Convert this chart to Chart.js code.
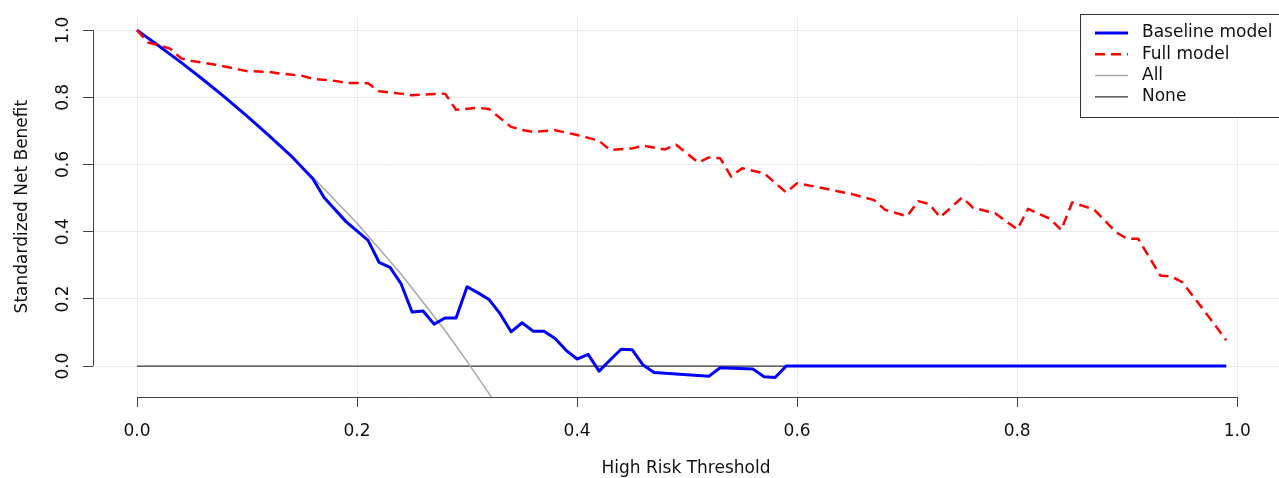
<!DOCTYPE html>
<html lang="en">
<head>
    <meta charset="UTF-8">
    <title>Decision Curve</title>
    <script src="https://cdn.jsdelivr.net/npm/chart.js"></script>
    <style>
        body { margin: 0; padding: 0; background: #fff; }
        .wrap { width: 1279px; height: 478px; position: relative; }
    </style>
</head>
<body>
    <div class="wrap"><canvas id="dca"></canvas></div>

    <script>
        // values
        const xTicks = [0, 0.2, 0.4, 0.6, 0.8, 1.0];
        const yTicks = [0, 0.2, 0.4, 0.6, 0.8, 1.0];

        const baseX = [0, 0.02, 0.04, 0.06, 0.08, 0.10, 0.12, 0.14, 0.16, 0.17, 0.19, 0.21, 0.22, 0.23, 0.24, 0.25, 0.26, 0.27, 0.28, 0.29,
                       0.30, 0.31, 0.32, 0.33, 0.34, 0.35, 0.36, 0.37, 0.38, 0.39, 0.40, 0.41, 0.42, 0.43, 0.44, 0.45, 0.46, 0.47,
                       0.52, 0.53, 0.56, 0.57, 0.58, 0.59, 0.99];
        const baseY = [1.000, 0.953, 0.904, 0.853, 0.800, 0.744, 0.686, 0.626, 0.557, 0.502, 0.430, 0.374, 0.309, 0.294, 0.245, 0.161, 0.164, 0.125, 0.143, 0.143,
                       0.236, 0.218, 0.198, 0.156, 0.102, 0.129, 0.104, 0.104, 0.082, 0.047, 0.021, 0.035, -0.015, 0.018, 0.050, 0.049, 0.003, -0.019,
                       -0.030, -0.005, -0.009, -0.032, -0.034, 0.000, 0.000];

        const fullX = [0, 0.01, 0.02, 0.03, 0.04, 0.05, 0.07, 0.09, 0.10, 0.12, 0.13, 0.15, 0.16, 0.18, 0.19, 0.21, 0.22, 0.24, 0.25, 0.27, 0.28, 0.29,
                       0.31, 0.32, 0.34, 0.35, 0.36, 0.38, 0.40, 0.42, 0.43, 0.45, 0.46, 0.48, 0.49, 0.51, 0.52, 0.53, 0.54, 0.55, 0.57, 0.59,
                       0.60, 0.62, 0.65, 0.67, 0.68, 0.70, 0.71, 0.72, 0.73, 0.75, 0.76, 0.78, 0.80, 0.81, 0.83, 0.84, 0.85, 0.87, 0.89,
                       0.90, 0.91, 0.93, 0.94, 0.95, 0.97, 0.99];
        const fullY = [1.000, 0.963, 0.955, 0.945, 0.916, 0.908, 0.898, 0.885, 0.878, 0.876, 0.871, 0.864, 0.855, 0.849, 0.843, 0.842, 0.818, 0.811, 0.806, 0.810, 0.811, 0.763,
                       0.769, 0.765, 0.712, 0.703, 0.697, 0.702, 0.688, 0.671, 0.643, 0.648, 0.656, 0.645, 0.659, 0.606, 0.621, 0.619, 0.564, 0.589, 0.574, 0.517,
                       0.544, 0.532, 0.512, 0.494, 0.465, 0.446, 0.491, 0.483, 0.443, 0.502, 0.471, 0.455, 0.407, 0.468, 0.438, 0.405, 0.487, 0.466, 0.398,
                       0.379, 0.379, 0.270, 0.267, 0.250, 0.165, 0.077];

        const allX = [0, 0.04, 0.08, 0.12, 0.16, 0.20, 0.24, 0.28, 0.30, 0.32, 0.33];
        const allY = [1.000, 0.904, 0.800, 0.686, 0.562, 0.425, 0.274, 0.106, 0.014, -0.082, -0.135];

        const noneX = [0, 0.99];
        const noneY = [0, 0];

        const pts = (xs, ys) => xs.map((x, i) => ({ x: x, y: ys[i] }));

        Chart.defaults.font.family = "'DejaVu Sans', sans-serif";
        Chart.defaults.font.size = 17;
        Chart.defaults.color = '#111';

        // R-style axis lines, only from first to last tick
        const axisLines = {
            id: 'axisLines',
            afterDatasetsDraw(chart) {
                const { ctx, chartArea, scales: { x, y } } = chart;
                ctx.save();
                ctx.strokeStyle = '#444';
                ctx.lineWidth = 1;
                ctx.beginPath();
                ctx.moveTo(x.getPixelForValue(xTicks[0]), chartArea.bottom + 0.5);
                ctx.lineTo(x.getPixelForValue(xTicks[xTicks.length - 1]), chartArea.bottom + 0.5);
                ctx.moveTo(chartArea.left + 0.5, y.getPixelForValue(yTicks[0]));
                ctx.lineTo(chartArea.left + 0.5, y.getPixelForValue(yTicks[yTicks.length - 1]));
                ctx.stroke();
                ctx.restore();
            }
        };

        // boxed legend in the top right corner
        const boxLegend = {
            id: 'boxLegend',
            afterDraw(chart) {
                const ctx = chart.ctx;
                const left = 1080, top = 14;
                ctx.save();
                ctx.fillStyle = '#fff';
                ctx.strokeStyle = '#333';
                ctx.lineWidth = 1;
                ctx.fillRect(left, top, 220, 103);
                ctx.strokeRect(left + 0.5, top + 0.5, 220, 103);
                ctx.font = "17px 'DejaVu Sans', sans-serif";
                ctx.textBaseline = 'middle';
                chart.data.datasets.forEach((ds, i) => {
                    const yy = 33 + i * 21.3;
                    ctx.strokeStyle = ds.borderColor;
                    ctx.lineWidth = ds.borderWidth;
                    ctx.setLineDash(ds.borderDash || []);
                    ctx.beginPath();
                    ctx.moveTo(1095, yy);
                    ctx.lineTo(1128, yy);
                    ctx.stroke();
                    ctx.setLineDash([]);
                    ctx.fillStyle = '#111';
                    ctx.fillText(ds.label, 1142, yy);
                });
                ctx.restore();
            }
        };

        new Chart(document.getElementById('dca'), {
            type: 'line',
            data: {
                datasets: [
                    { label: 'Baseline model', data: pts(baseX, baseY), borderColor: '#0000ff', borderWidth: 3, order: 1 },
                    { label: 'Full model', data: pts(fullX, fullY), borderColor: '#ff0000', borderWidth: 2.5, borderDash: [10, 6], order: 0 },
                    { label: 'All', data: pts(allX, allY), borderColor: '#a8a8a8', borderWidth: 1.5, order: 2 },
                    { label: 'None', data: pts(noneX, noneY), borderColor: '#333', borderWidth: 1.3, order: 3 }
                ]
            },
            options: {
                responsive: true,
                maintainAspectRatio: false,
                animation: false,
                elements: { point: { radius: 0 }, line: { tension: 0, borderJoinStyle: 'round' } },
                layout: { padding: { top: 11, right: 0, bottom: 0, left: 0 } },
                plugins: { legend: { display: false }, tooltip: { enabled: false } },
                scales: {
                    x: {
                        type: 'linear',
                        min: -0.04, max: 1.038,
                        afterBuildTicks: s => { s.ticks = xTicks.map(v => ({ value: v })); },
                        afterFit: s => { s.height = 81; },
                        border: { display: false },
                        grid: { color: '#ebebeb', tickColor: '#444', tickLength: 10 },
                        ticks: { padding: 14, maxRotation: 0, callback: v => v.toFixed(1) },
                        title: { display: true, text: 'High Risk Threshold', font: { lineHeight: 1.1 }, padding: { top: 0, bottom: 0 } }
                    },
                    y: {
                        min: -0.092, max: 1.0415,
                        afterBuildTicks: s => { s.ticks = yTicks.map(v => ({ value: v })); },
                        afterFit: s => { s.width = 93; },
                        border: { display: false },
                        grid: { color: '#ebebeb', tickColor: '#444', tickLength: 10 },
                        ticks: { padding: 6, minRotation: 90, maxRotation: 90, crossAlign: 'center', callback: v => v.toFixed(1) },
                        title: { display: true, text: 'Standardized Net Benefit', padding: { top: 12, bottom: 0 } }
                    }
                }
            },
            plugins: [axisLines, boxLegend]
        });
    </script>
</body>
</html>
